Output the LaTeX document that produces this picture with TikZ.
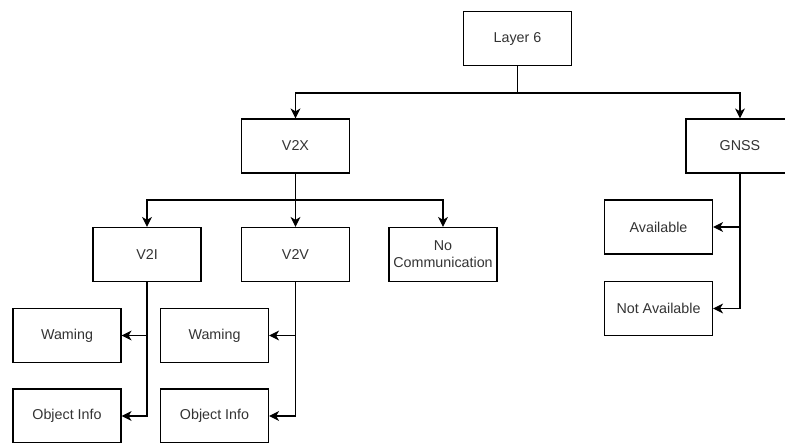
\documentclass[tikz,border=0pt]{standalone}
\usepackage{fontspec}
\setmainfont{Liberation Sans}
\usetikzlibrary{arrows.meta}
\definecolor{txt}{HTML}{333333}
\begin{document}
\begin{tikzpicture}[x=1pt,y=-1pt,
  box/.style={draw=black,line width=1.2pt,rectangle,minimum width=108pt,minimum height=54pt,inner sep=0pt,align=center,text=txt,font=\fontsize{14.3}{17}\selectfont},
  arr/.style={draw=black,line width=1.2pt,-{Stealth[length=10pt,width=10pt,inset=3pt]}},
  ln/.style={draw=black,line width=1.2pt}]
\useasboundingbox (0,0) rectangle (785,443);
\node[box] (L6) at (517.5,38.5) {Layer 6};
\node[box] (V2X) at (295.5,146) {V2X};
\node[box] (GNSS) at (740,146) {GNSS};
\node[box] (V2I) at (147,254.5) {V2I};
\node[box] (V2V) at (295.5,254.5) {V2V};
\node[box] (NC) at (443,254.5) {No\\Communication};
\node[box] (W1) at (67,335.5) {Waming};
\node[box] (O1) at (67,416) {Object Info};
\node[box] (W2) at (214.5,335.5) {Waming};
\node[box] (O2) at (214.5,416) {Object Info};
\node[box] (AV) at (658.5,227) {Available};
\node[box] (NA) at (658.5,308.5) {Not Available};
\coordinate (j1) at (517.5,93);
\coordinate (j2) at (295.5,200);
\draw[ln] (L6.south) -- (j1);
\draw[arr] (j1) -| (V2X.north);
\draw[arr] (j1) -| (GNSS.north);
\draw[ln] (V2X.south) -- (j2);
\draw[arr] (j2) -| (V2I.north);
\draw[arr] (j2) -- (V2V.north);
\draw[arr] (j2) -| (NC.north);
\draw[arr] (V2I.south) |- (O1.east);
\draw[arr] (V2I.south |- W1.east) -- (W1.east);
\draw[arr] (V2V.south) |- (O2.east);
\draw[arr] (V2V.south |- W2.east) -- (W2.east);
\draw[arr] (GNSS.south) |- (NA.east);
\draw[arr] (GNSS.south |- AV.east) -- (AV.east);
\end{tikzpicture}
\end{document}
